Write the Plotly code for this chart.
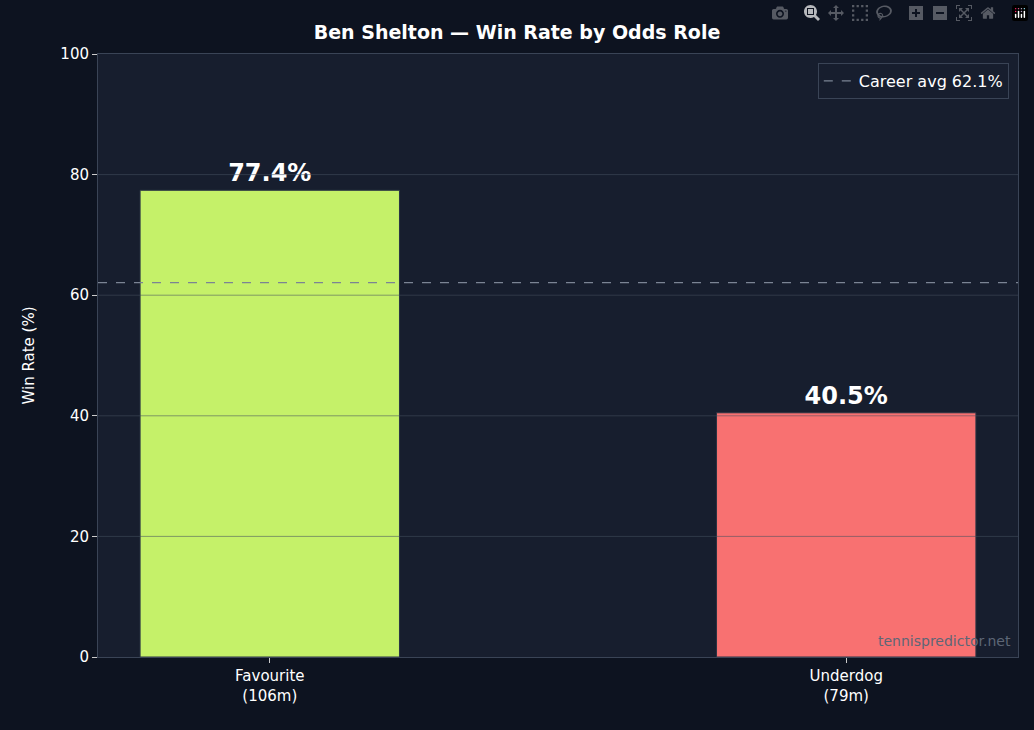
import plotly.graph_objects as go

roles = ["Favourite<br>(106m)", "Underdog<br>(79m)"]
win_rates = [77.4, 40.5]
bar_colors = ["#c5f169", "#f87171"]
career_avg = 62.1

fig = go.Figure()
fig.add_trace(go.Bar(
    x=[0, 1], y=win_rates, width=0.45,
    marker=dict(color=bar_colors, line=dict(color="#2a3444", width=1)),
    text=[f"<b>{v}%</b>" for v in win_rates], textposition="outside",
    textfont=dict(size=24, color="white", family="DejaVu Sans"),
    cliponaxis=False, showlegend=False,
))
fig.add_trace(go.Scatter(
    x=[-0.298, 1.298], y=[career_avg, career_avg], mode="lines",
    line=dict(color="#7b8494", dash="dash", width=1.3),
    name=f"Career avg {career_avg}%",
))
for g in [20, 40, 60, 80]:
    fig.add_shape(type="line", xref="paper", x0=0, x1=1, y0=g, y1=g,
                  line=dict(color="rgba(70,80,95,0.55)", width=1), layer="above")

fig.update_layout(
    width=1034, height=730,
    paper_bgcolor="#0d1320", plot_bgcolor="#171e2e",
    font=dict(family="DejaVu Sans", color="white", size=15),
    title=dict(text="<b>Ben Shelton — Win Rate by Odds Role</b>", x=0.5, y=0.965,
               font=dict(size=19, color="white")),
    margin=dict(l=98, r=16, t=54, b=73),
    xaxis=dict(tickvals=[0, 1], ticktext=roles, range=[-0.298, 1.298],
               showgrid=False, zeroline=False, ticks="outside", ticklen=5,
               tickcolor="#cccccc", showline=True, linecolor="#3a4456", mirror=True),
    yaxis=dict(range=[0, 100], dtick=20, showgrid=False, zeroline=False,
               title=dict(text="Win Rate (%)", font=dict(size=15), standoff=22),
               ticks="outside", ticklen=5, tickcolor="#cccccc",
               showline=True, linecolor="#3a4456", mirror=True),
    legend=dict(x=0.99, y=0.985, xanchor="right", yanchor="top",
                bgcolor="#171e2e", bordercolor="#3a4456", borderwidth=1,
                font=dict(size=16, color="white")),
)
fig.add_annotation(text="tennispredictor.net", xref="paper", yref="paper",
                   x=0.995, y=0.01, xanchor="right", yanchor="bottom",
                   showarrow=False, font=dict(size=14, color="#5d6676"))
fig.write_html("out.html", post_script="document.body.style.margin='0';")
